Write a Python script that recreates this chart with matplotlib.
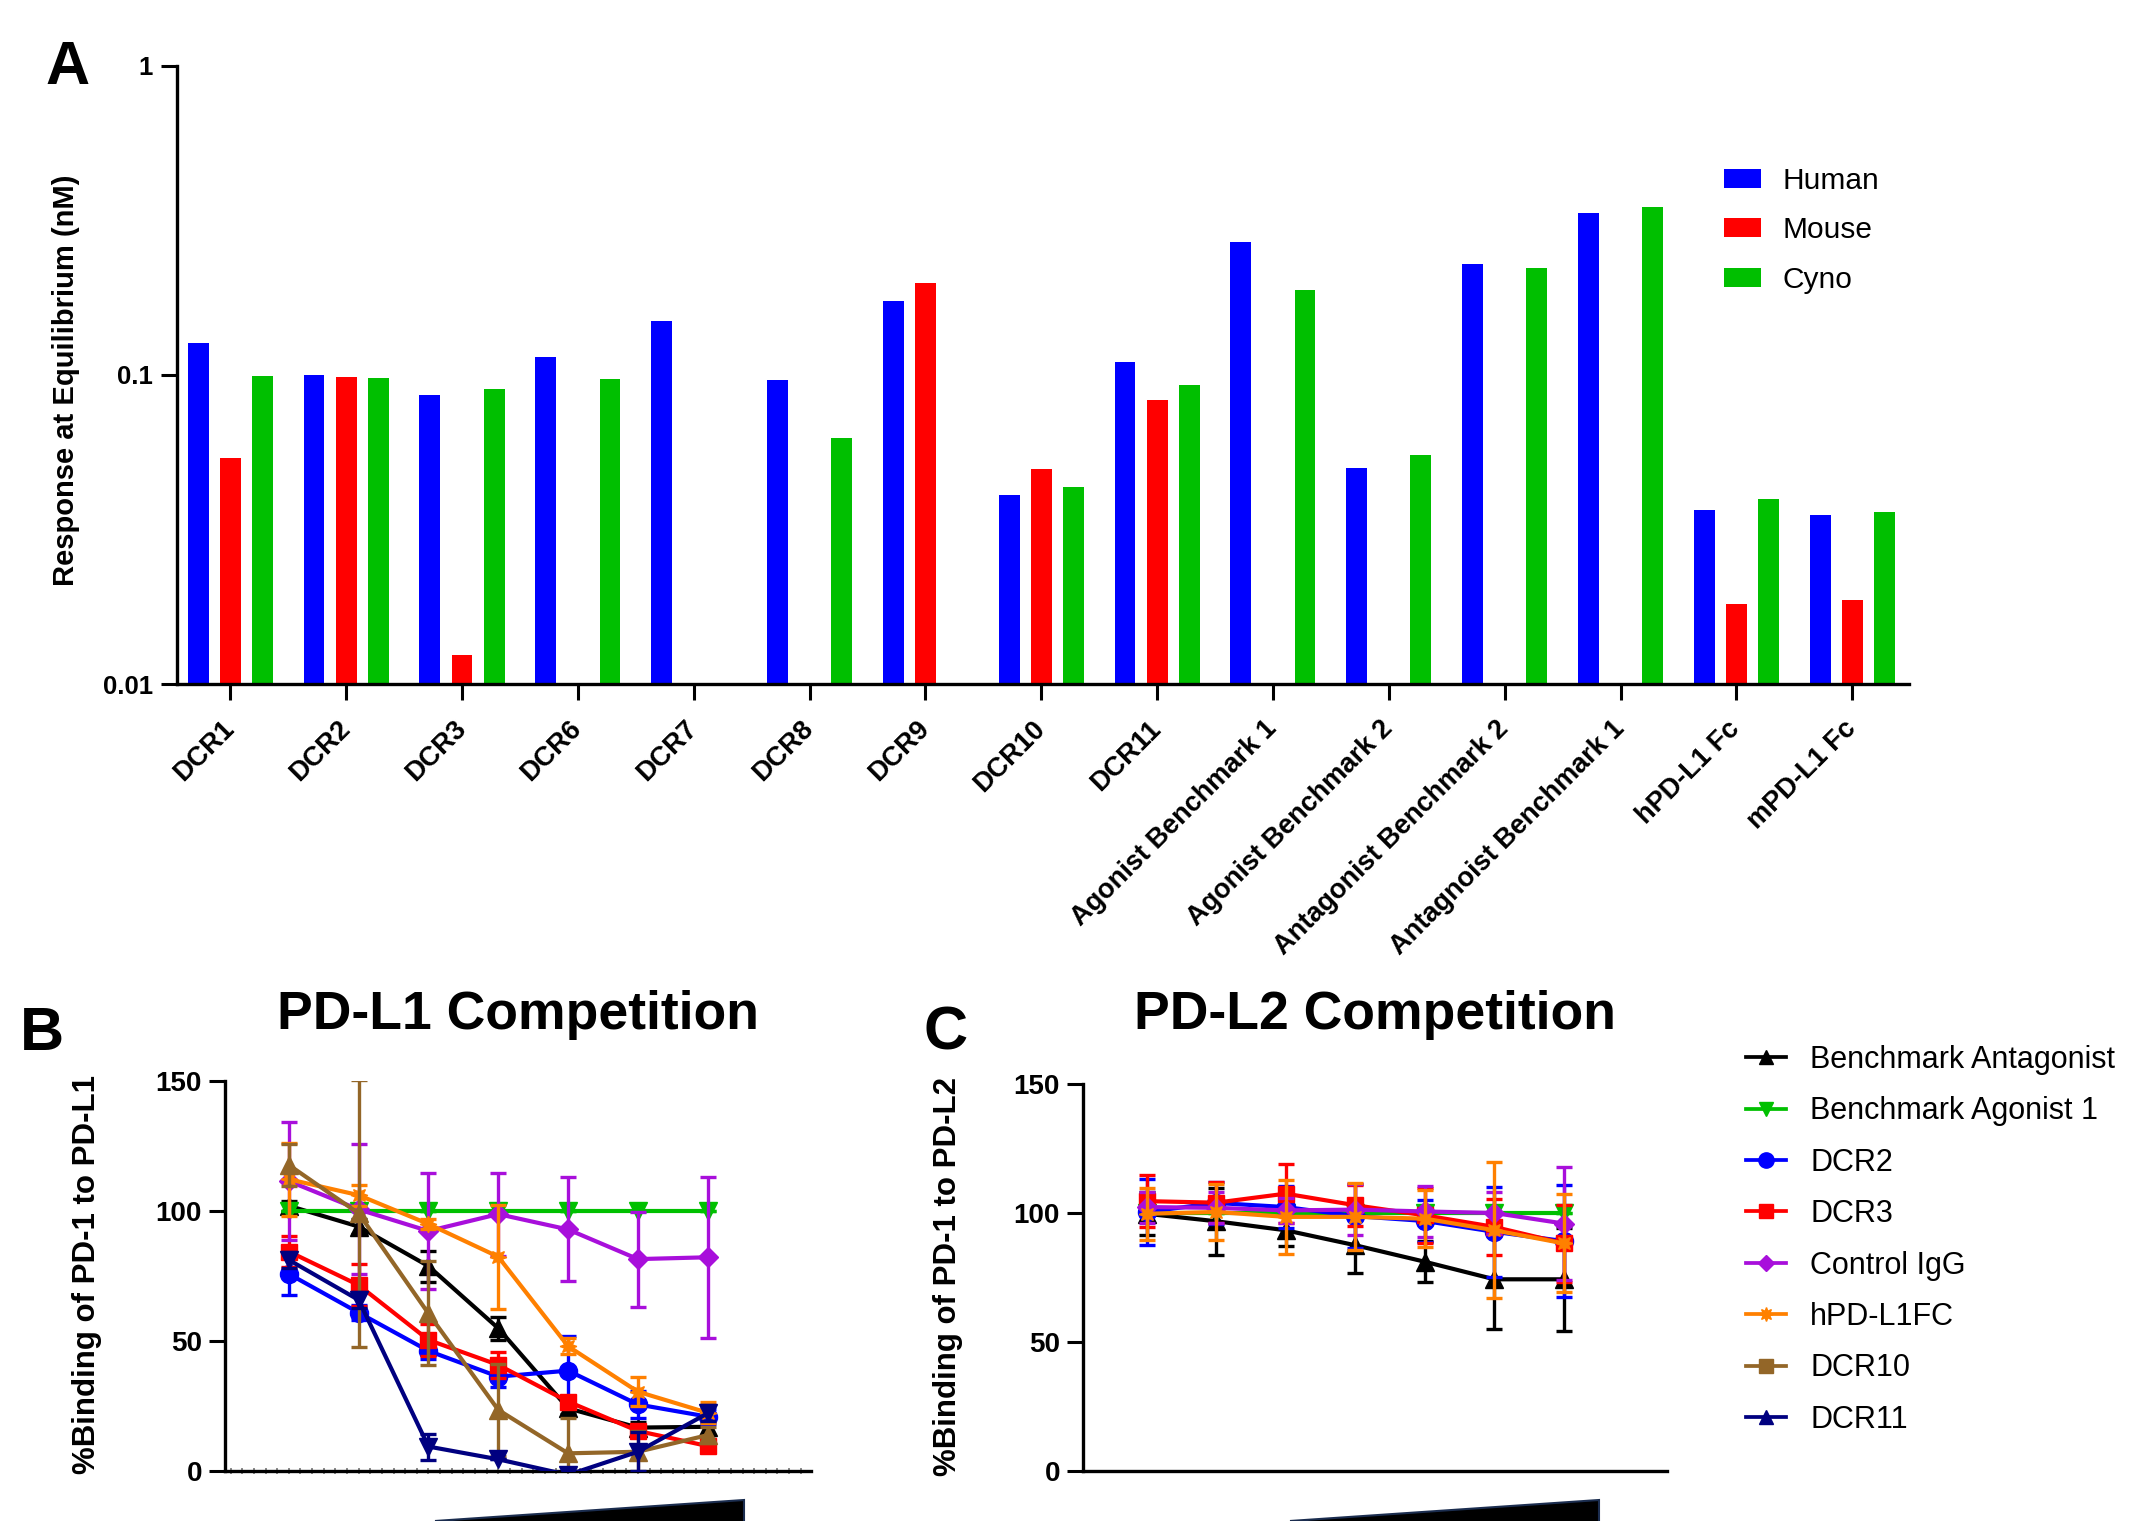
import numpy as np
import matplotlib.pyplot as plt
from matplotlib.lines import Line2D
from matplotlib.patches import Polygon
from matplotlib.ticker import MultipleLocator, NullLocator

plt.rcParams['font.family'] = ['Liberation Sans', 'DejaVu Sans']

nan = np.nan

# ---- panel A: response at equilibrium (nM), nan = no bar
antibodies = ["DCR1", "DCR2", "DCR3", "DCR6", "DCR7", "DCR8", "DCR9", "DCR10", "DCR11",
              "Agonist Benchmark 1", "Agonist Benchmark 2", "Antagonist Benchmark 2",
              "Antagnoist Benchmark 1", "hPD-L1 Fc", "mPD-L1 Fc"]
human = [0.127, 0.100, 0.0863, 0.1146, 0.1497, 0.0963, 0.173, 0.0408, 0.110,
         0.269, 0.050, 0.2275, 0.334, 0.0365, 0.0351]
mouse = [0.054, 0.0983, 0.0124, nan, nan, nan, 0.198, 0.0497, 0.0827,
         nan, nan, nan, nan, 0.0181, 0.0187]
cyno = [0.0993, 0.0976, 0.0902, 0.0969, nan, 0.0626, nan, 0.0434, 0.093,
        0.188, 0.0551, 0.221, 0.349, 0.0397, 0.0359]

# ---- panels B / C: % binding vs increasing antibody concentration
conc_step = [1, 2, 3, 4, 5, 6, 7]

# PD-L1 competition
b_antag = [102, 94, 78.8, 54.9, 24.1, 16.7, 17]
b_antag_err = [2, 3, 6, 4.5, 2, 2, 3]
b_agon = [100, 100, 100, 100, 100, 100, 100]
b_agon_err = [0, 0, 0, 0, 0, 0, 0]
b_dcr2 = [75.8, 60.9, 46.2, 36.3, 38.6, 25.6, 20.9]
b_dcr2_err = [8, 3, 3, 4, 13.5, 5.3, 3]
b_dcr3 = [84.4, 71.5, 50.4, 40.8, 26.7, 15.4, 9.6]
b_dcr3_err = [6, 8, 6, 5, 2, 2, 2]
b_igg = [111.5, 100.6, 92.3, 98.8, 92.9, 81.5, 82.2]
b_igg_err = [22.8, 25, 22.2, 16, 20, 18.3, 31]
b_hpdl1 = [112.2, 106.1, 95, 82.4, 48, 30.5, 22.4]
b_hpdl1_err = [14, 4, 2, 20, 3, 5.5, 4]
b_dcr10 = [117.7, 99.1, 60.6, 23.5, 6.8, 7.4, 13.8]
b_dcr10_err = [8, 51.3, 20, 17.7, 13.5, 8, 3]
b_dcr11 = [81.2, 65.8, 9.4, 4.5, -1.5, 7.4, 22.2]
b_dcr11_err = [3, 3, 5, 0, 0, 7.5, 3]

# PD-L2 competition
c_antag = [99.7, 96.8, 93.3, 87.5, 81.1, 74.3, 74.3]
c_antag_err = [8.4, 13, 6, 10.7, 8, 19.3, 20]
c_agon = [100, 100, 100, 100, 100, 100, 100]
c_agon_err = [0, 0, 0, 0, 0, 0, 0]
c_dcr2 = [100.4, 103.9, 102.3, 98.8, 96.9, 92.7, 89.1]
c_dcr2_err = [12.9, 8, 8, 12.5, 8, 17.5, 21.7]
c_dcr3 = [104.6, 104, 107.5, 103, 99.1, 94.6, 88.2]
c_dcr3_err = [10, 8, 11.3, 8, 10.7, 10.7, 15]
c_igg = [102.3, 102, 101, 101.3, 100.6, 100, 95.9]
c_igg_err = [6, 6, 5, 10, 10, 8, 22]
c_hpdl1 = [99.7, 100.4, 98.5, 98.5, 97.8, 93.3, 88.2]
c_hpdl1_err = [10, 11, 14.4, 13, 11, 26.4, 19]

series_names = ["Benchmark Antagonist", "Benchmark Agonist 1", "DCR2", "DCR3",
                "Control IgG", "hPD-L1FC", "DCR10", "DCR11"]

BLUE, RED, GREEN = '#0000FF', '#FF0000', '#00BF00'
colors = ['black', '#00C000', '#0000FF', '#FF0000', '#A80FDB', '#FF8000', '#936628', '#000080']
chart_markers = ['^', 'v', 'o', 's', 'D', (8, 1, 0), '^', 'v']
legend_markers = ['^', 'v', 'o', 's', 'D', (8, 1, 0), 's', '^']
msizes = [12.5, 12.5, 13, 12, 10.5, 12, 12.5, 12.5]

W, H = 2131, 1521
fig = plt.figure(figsize=(W / 100, H / 100), dpi=100)


def px_axes(l, t, r, b):
    return fig.add_axes([l / W, 1 - b / H, (r - l) / W, (b - t) / H])


def style_spines(ax):
    for s in ['top', 'right']:
        ax.spines[s].set_visible(False)
    for s in ['left', 'bottom']:
        ax.spines[s].set_linewidth(2.4)


# ---------------- A
axA = px_axes(177, 65.7, 1909, 684)
x = np.arange(len(antibodies))
off, bw = 0.277, 0.18
axA.bar(x - off, human, bw, color=BLUE, label='Human')
axA.bar(x, mouse, bw, color=RED, label='Mouse')
axA.bar(x + off, cyno, bw, color=GREEN, label='Cyno')
axA.set_yscale('log')
axA.set_ylim(0.01, 1)
axA.set_xlim(-0.46, 14.49)
axA.set_yticks([0.01, 0.1, 1], ['0.01', '0.1', '1'])
axA.yaxis.set_minor_locator(NullLocator())
axA.set_xticks(x)
axA.set_xticklabels(antibodies, rotation=45, rotation_mode='anchor', ha='right', va='center')
style_spines(axA)
axA.tick_params(axis='both', length=11.5, width=2.2)
axA.tick_params(axis='y', labelsize=18.5, pad=6)
axA.tick_params(axis='x', labelsize=19.5, pad=18)
for lab in axA.get_xticklabels() + axA.get_yticklabels():
    lab.set_fontweight('bold')
axA.legend(loc='upper left', bbox_to_anchor=(1724 / W, 1 - 167 / H),
           bbox_transform=fig.transFigure, frameon=False, fontsize=21.5,
           borderpad=0, borderaxespad=0, handlelength=1.25, handleheight=0.6,
           handletextpad=0.7, labelspacing=0.72)
fig.text(45 / W, 1 - 84 / H, 'A', fontsize=44, fontweight='bold', va='baseline')
fig.text(66 / W, 1 - 380 / H, 'Response at Equilibrium (nM)', rotation=90,
         fontsize=21, fontweight='bold', ha='center', va='center')


# ---------------- B and C
def curve_axes(ax, data, order, minor):
    for i in order:
        y, e = data[i]
        ax.errorbar(conc_step, y, yerr=e, color=colors[i], marker=chart_markers[i],
                    ms=msizes[i], lw=3, elinewidth=2.4, capsize=5.5, capthick=2.4,
                    zorder=3 + i)
    ax.set_ylim(0, 150)
    ax.set_xlim(0.086, 8.48)
    ax.set_yticks([0, 50, 100, 150])
    ax.set_xticks([])
    style_spines(ax)
    ax.tick_params(axis='y', length=11.5, width=2.2, labelsize=20, pad=5)
    for lab in ax.get_yticklabels():
        lab.set_fontweight('bold')
    if minor:
        ax.xaxis.set_minor_locator(MultipleLocator(1 / 6))
        ax.tick_params(axis='x', which='minor', direction='inout', length=4,
                       width=1.2, color='#777777')


axB = px_axes(225, 1081, 811, 1471)
dataB = [(b_antag, b_antag_err), (b_agon, b_agon_err), (b_dcr2, b_dcr2_err),
         (b_dcr3, b_dcr3_err), (b_igg, b_igg_err), (b_hpdl1, b_hpdl1_err),
         (b_dcr10, b_dcr10_err), (b_dcr11, b_dcr11_err)]
curve_axes(axB, dataB, [0, 1, 4, 5, 6, 7, 3, 2], True)

axC = px_axes(1083, 1084, 1667, 1471)
dataC = [(c_antag, c_antag_err), (c_agon, c_agon_err), (c_dcr2, c_dcr2_err),
         (c_dcr3, c_dcr3_err), (c_igg, c_igg_err), (c_hpdl1, c_hpdl1_err)]
curve_axes(axC, dataC, [0, 5, 4, 1, 3, 2], False)

fig.text(518 / W, 1 - 1029 / H, 'PD-L1 Competition', fontsize=38.5, fontweight='bold',
         ha='center', va='baseline')
fig.text(1375 / W, 1 - 1029 / H, 'PD-L2 Competition', fontsize=38.5, fontweight='bold',
         ha='center', va='baseline')
fig.text(20 / W, 1 - 1050 / H, 'B', fontsize=44, fontweight='bold', va='baseline')
fig.text(923 / W, 1 - 1050 / H, 'C', fontsize=44, fontweight='bold', va='baseline')
fig.text(87 / W, 1 - 1274 / H, '%Binding of PD-1 to PD-L1', rotation=90,
         fontsize=22.5, fontweight='bold', ha='center', va='center')
fig.text(948 / W, 1 - 1277 / H, '%Binding of PD-1 to PD-L2', rotation=90,
         fontsize=22.5, fontweight='bold', ha='center', va='center')

# concentration wedges under the x axes
for xl, xr in [(435, 744), (1290, 1599)]:
    fig.add_artist(Polygon([[xl / W, 0], [xr / W, 1 - 1500 / H], [xr / W, -0.01]],
                           closed=True, transform=fig.transFigure,
                           facecolor='black', edgecolor='#1b2d4f', lw=1.5))

handles = [Line2D([], [], color=colors[i], marker=legend_markers[i], ms=msizes[i] - 2, lw=2.7)
           for i in range(len(series_names))]
fig.legend(handles, series_names, loc='upper left', bbox_to_anchor=(1746 / W, 1 - 1045 / H),
           frameon=False, fontsize=22, borderpad=0, borderaxespad=0, handlelength=1.3,
           handletextpad=0.8, labelspacing=0.7)

fig.savefig('out.png', dpi=100)
